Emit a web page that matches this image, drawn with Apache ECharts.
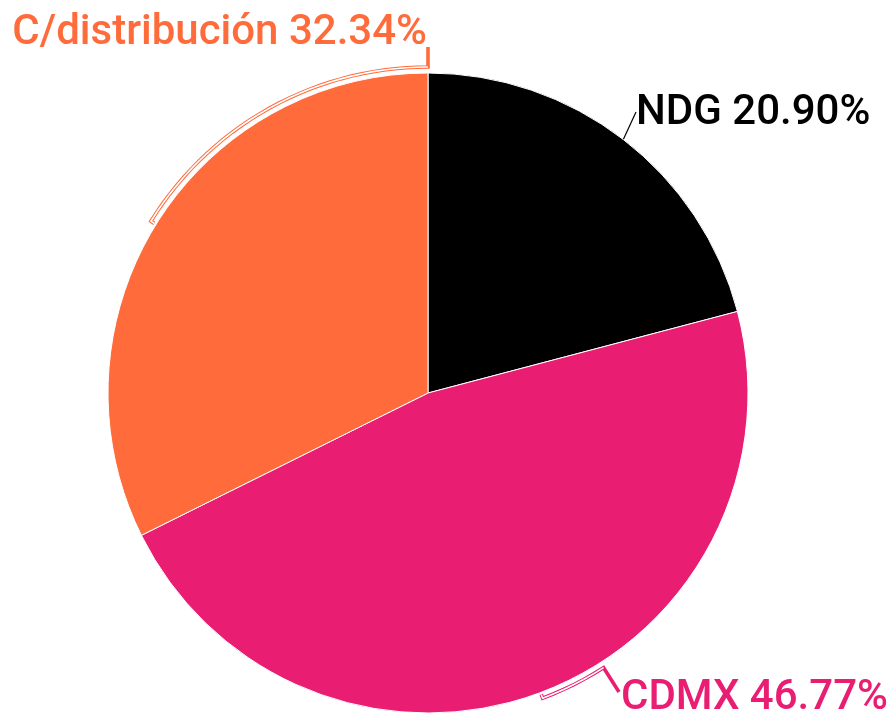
<!DOCTYPE html>
<html>
<head>
<meta charset="utf-8">
<script src="https://cdn.jsdelivr.net/npm/echarts@6/dist/echarts.min.js"></script>
<style>
  html, body { margin: 0; padding: 0; background: #fff; }
  #chart { width: 894px; height: 714px; }
</style>
</head>
<body>
<div id="chart"></div>
<script>
const categories = ["NDG", "CDMX", "C/distribución"];
const shares = [20.90, 46.77, 32.34];
const colors = ["#000000", "#E91E72", "#FF6B3B"];

const cx = 428, cy = 393, r = 320;
const total = shares.reduce((a, b) => a + b, 0);

// angle helpers (degrees, counter-clockwise from 3 o'clock)
function sliceAngles(i) {
    let before = 0;
    for (let k = 0; k < i; k++) before += shares[k];
    const start = 90 - (before / total) * 360;
    const end = start - (shares[i] / total) * 360;
    return { start, end, mid: (start + end) / 2 };
}
function pt(deg, rad) {
    const a = (deg * Math.PI) / 180;
    return [cx + rad * Math.cos(a), cy - rad * Math.sin(a)];
}
function arc(from, to, rad) {
    const pts = [];
    const n = Math.max(2, Math.ceil(Math.abs(to - from) / 2));
    for (let k = 0; k <= n; k++) pts.push(pt(from + ((to - from) * k) / n, rad));
    return pts;
}

// bracket part of each label line (tick + arc hugging the slice)
function bracket(i) {
    const a = sliceAngles(i);
    if (i === 1) return [pt(a.mid, r + 2)].concat(arc(a.mid, a.mid + 12, r + 6));
    if (i === 2) return [pt(a.mid, r + 2)].concat(arc(a.mid, a.end, r + 6));
    return null;
}

function layout(params, overlay) {
    const i = params.dataIndex;
    const a = sliceAngles(i);
    if (i === 0) {
        return {
            x: 636, y: 113, align: "left", verticalAlign: "middle",
            labelLinePoints: overlay ? [pt(a.mid, r), pt(a.mid, r)] : [pt(a.mid, r), [636, 112]],
        };
    }
    const b = bracket(i);
    if (i === 1) {
        return {
            x: 621, y: 698, align: "left", verticalAlign: "middle",
            labelLinePoints: overlay ? b : b.concat([[619, 692]]),
        };
    }
    return {
        x: 427, y: 33, align: "right", verticalAlign: "middle",
        labelLinePoints: overlay ? b : b.concat([[cx, 47]]),
    };
}

const baseLabel = {
    show: true,
    fontFamily: "Roboto",
    fontWeight: 500,
    fontSize: 42,
    overflow: "none",
    formatter: (p) => p.name + " " + p.value.toFixed(2) + "%",
};

const chart = echarts.init(document.getElementById("chart"));

chart.setOption({
    animation: false,
    series: [
        {
            type: "pie",
            center: [cx, cy],
            radius: r,
            startAngle: 90,
            clockwise: true,
            data: categories.map((name, i) => ({
                name,
                value: shares[i],
                itemStyle: { color: colors[i] },
                label: { color: colors[i] },
                labelLine: { lineStyle: { color: colors[i], width: i === 0 ? 1.2 : 3.6 } },
            })),
            itemStyle: { borderColor: "#ffffff", borderWidth: 1 },
            label: baseLabel,
            labelLine: { show: true },
            emphasis: { disabled: true },
            labelLayout: (p) => layout(p, false),
        },
        {
            // white core over the bracket lines gives them the outlined look
            type: "pie",
            center: [cx, cy],
            radius: r,
            startAngle: 90,
            clockwise: true,
            silent: true,
            data: categories.map((name, i) => ({ name, value: shares[i] })),
            itemStyle: { color: "rgba(0,0,0,0)" },
            label: Object.assign({}, baseLabel, { color: "rgba(0,0,0,0)" }),
            labelLine: { show: true, lineStyle: { color: "#ffffff", width: 1.6 } },
            emphasis: { disabled: true },
            labelLayout: (p) => layout(p, true),
        },
    ],
});
</script>
</body>
</html>
